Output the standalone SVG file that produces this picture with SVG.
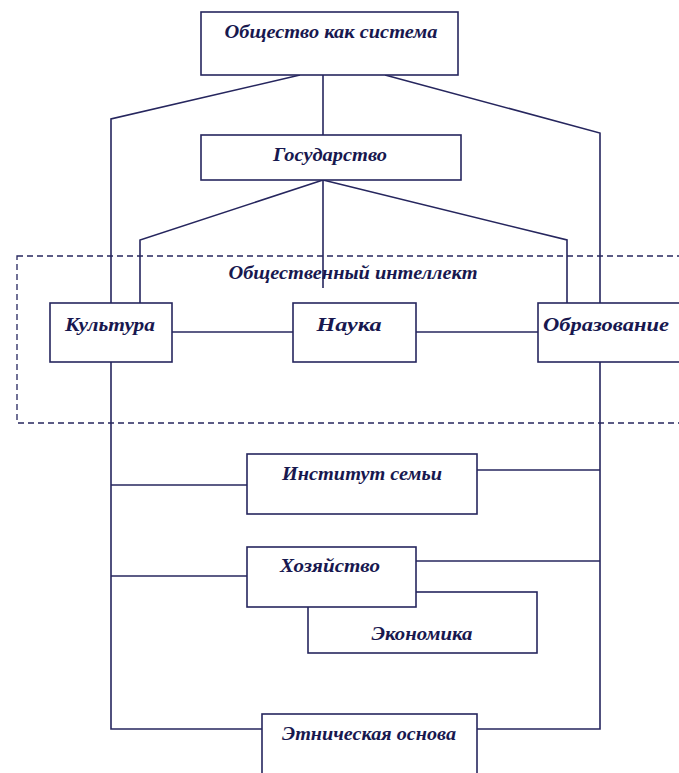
<svg xmlns="http://www.w3.org/2000/svg" width="679" height="773" viewBox="0 0 679 773">
<style>
.box{fill:#fff;stroke:#26265e;stroke-width:1.6}
.ln{fill:none;stroke:#26265e;stroke-width:1.6}
.dash{fill:none;stroke:#26265e;stroke-width:1.3;stroke-dasharray:6,4}
text{font-family:"Liberation Serif","DejaVu Serif",serif;font-style:italic;font-weight:bold;font-size:19px;fill:#18184f}
</style>
<rect width="679" height="773" fill="#fff"/>
<g id="connectors">
<polyline class="ln" points="300,75 111,119 111,303"/>
<polyline class="ln" points="385,75 600,133 600,303"/>
<line class="ln" x1="323" y1="75" x2="323" y2="135"/>
<polyline class="ln" points="323,180 140,240 140,303"/>
<polyline class="ln" points="323,180 567,240 567,303"/>
<line class="ln" x1="323" y1="180" x2="323" y2="288"/>
<line class="ln" x1="172" y1="332" x2="293" y2="332"/>
<line class="ln" x1="416" y1="332" x2="538" y2="332"/>
<polyline class="ln" points="111,362 111,729 262,729"/>
<polyline class="ln" points="600,362 600,729 477,729"/>
<line class="ln" x1="111" y1="485" x2="247" y2="485"/>
<line class="ln" x1="477" y1="470" x2="600" y2="470"/>
<line class="ln" x1="111" y1="576" x2="247" y2="576"/>
<line class="ln" x1="416" y1="561" x2="600" y2="561"/>
</g>
<g id="intellect-group">
<rect class="dash" x="17" y="256" width="670" height="167"/>
<text x="353" y="279" text-anchor="middle" textLength="249" lengthAdjust="spacingAndGlyphs">Общественный интеллект</text>
</g>
<g id="society">
<rect class="box" x="201" y="12" width="257" height="63"/>
<text x="331" y="38" text-anchor="middle" textLength="213" lengthAdjust="spacingAndGlyphs">Общество как система</text>
</g>
<g id="state">
<rect class="box" x="201" y="135" width="260" height="45"/>
<text x="330" y="161" text-anchor="middle" textLength="114" lengthAdjust="spacingAndGlyphs">Государство</text>
</g>
<g id="culture">
<rect class="box" x="50" y="303" width="122" height="59"/>
<text x="110" y="331" text-anchor="middle" textLength="90" lengthAdjust="spacingAndGlyphs">Культура</text>
</g>
<g id="science">
<rect class="box" x="293" y="303" width="123" height="59"/>
<text x="349" y="331" text-anchor="middle" textLength="65" lengthAdjust="spacingAndGlyphs">Наука</text>
</g>
<g id="education">
<rect class="box" x="538" y="303" width="150" height="59"/>
<text x="606" y="331" text-anchor="middle" textLength="126" lengthAdjust="spacingAndGlyphs">Образование</text>
</g>
<g id="family">
<rect class="box" x="247" y="454" width="230" height="60"/>
<text x="362" y="480" text-anchor="middle" textLength="160" lengthAdjust="spacingAndGlyphs">Институт семьи</text>
</g>
<g id="economy">
<rect class="box" x="308" y="592" width="229" height="61"/>
<text x="422" y="640" text-anchor="middle" textLength="101" lengthAdjust="spacingAndGlyphs">Экономика</text>
</g>
<g id="household">
<rect class="box" x="247" y="547" width="169" height="60"/>
<text x="330" y="572" text-anchor="middle" textLength="100" lengthAdjust="spacingAndGlyphs">Хозяйство</text>
</g>
<g id="ethnic">
<rect class="box" x="262" y="714" width="215" height="70"/>
<text x="369" y="740" text-anchor="middle" textLength="174" lengthAdjust="spacingAndGlyphs">Этническая основа</text>
</g>
</svg>
